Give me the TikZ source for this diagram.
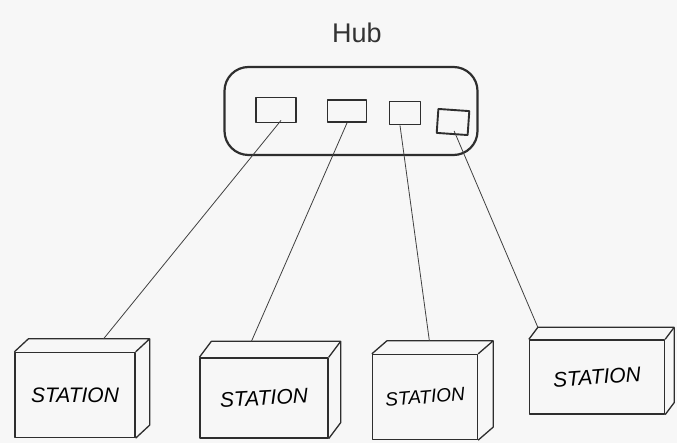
\documentclass[tikz,border=0pt]{standalone}
\usepackage{fontspec}
\setmainfont{Liberation Sans}
\usetikzlibrary{calc}
\begin{document}
\begin{tikzpicture}[x=1pt,y=-1pt,
  ink/.style={draw=black!82, line width=1.3pt, line join=round},
  hubbox/.style={ink, line width=2.2pt, rounded corners=24pt},
  portbox/.style={ink, line width=1.9pt, minimum width=34pt, minimum height=22pt, inner sep=0pt},
  stationbox/.style={ink, inner sep=0pt, font=\fontsize{21}{21}\selectfont\itshape},
  wire/.style={draw=black!75, line width=0.8pt},
  label/.style={font=\fontsize{27}{27}\selectfont, text=black!80}]
\fill[black!3] (0,0) rectangle (677,443);
\useasboundingbox (0,0) rectangle (677,443);

% hub with its four ports
\node[label] (hublabel) at (357,33) {Hub};
\node[hubbox, minimum width=253pt, minimum height=88pt] (hub) at (351,111) {};
\node[portbox, minimum width=40pt, minimum height=25pt] (p1) at (276,110) {};
\node[portbox, minimum width=39pt] (p2) at (347,111) {};
\node[portbox, minimum width=31pt, minimum height=23pt] (p3) at (405,113) {};
\node[portbox, minimum width=31pt, minimum height=24pt, rotate=-4] (p4) at (453,122) {};

% stations: front faces
\node[stationbox, minimum width=120pt, minimum height=85pt] (s1) at (75,395) {STATION};
\node[stationbox, minimum width=128pt, minimum height=80pt] (s2) at (264,398) {\rotatebox{3}{STATION}};
\node[stationbox, minimum width=105pt, minimum height=85pt, font=\fontsize{19}{19}\selectfont\itshape] (s3) at (425,397) {\rotatebox{5}{STATION}};
\node[stationbox, minimum width=135pt, minimum height=74pt] (s4) at (597,377) {\rotatebox{4}{STATION}};

% stations: top and side faces
\foreach \s/\dx/\dy in {s1/14/13, s2/12/16, s3/15/13, s4/9/12} {
  \draw[ink] (\s.north west) -- ++(\dx,-\dy) coordinate (\s-bl)
    -- ($(\s.north east)+(\dx,-\dy)$) coordinate (\s-br) -- (\s.north east);
  \draw[ink] (\s-br) -- ($(\s.south east)+(\dx,-\dy)$) -- (\s.south east);
}

% links from the ports to the stations
\coordinate (e1) at ($(s1-bl)!0.62!(s1-br)$);
\coordinate (e2) at ($(s2-bl)!0.31!(s2-br)$);
\coordinate (e3) at ($(s3-bl)!0.40!(s3-br)$);
\coordinate (e4) at (s4-bl);
\draw[wire] ($(p1.south)+(5,-3)$) -- (e1);
\draw[wire] (p2.south) -- (e2);
\draw[wire] ($(p3.south)+(-5,0)$) -- (e3);
\draw[wire] ($(p4.south)+(2,-4)$) -- (e4);
\end{tikzpicture}
\end{document}
